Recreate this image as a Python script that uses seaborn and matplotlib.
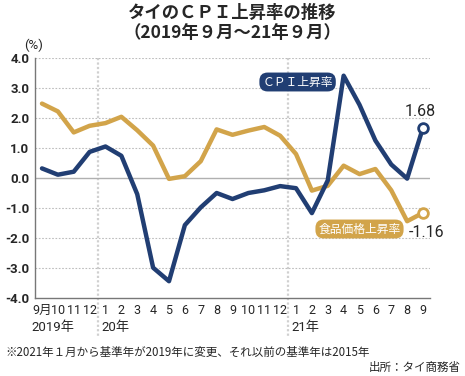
import matplotlib
matplotlib.use("Agg")
import matplotlib.pyplot as plt
import seaborn as sns
import pandas as pd
import numpy as np

# ---- data ----
months = ["9月", "10", "11", "12", "1", "2", "3", "4", "5", "6", "7", "8", "9",
          "10", "11", "12", "1", "2", "3", "4", "5", "6", "7", "8", "9"]
cpi = [0.32, 0.11, 0.21, 0.87, 1.05, 0.74, -0.54, -2.99, -3.44, -1.57, -0.98, -0.50, -0.70,
       -0.50, -0.41, -0.27, -0.34, -1.17, -0.08, 3.41, 2.44, 1.25, 0.45, -0.02, 1.68]
food = [2.48, 2.22, 1.52, 1.74, 1.83, 2.04, 1.59, 1.08, -0.03, 0.06, 0.56, 1.62, 1.44,
        1.58, 1.70, 1.41, 0.80, -0.42, -0.26, 0.41, 0.13, 0.30, -0.41, -1.44, -1.16]
series_names = ["ＣＰＩ上昇率", "食品価格上昇率"]
year_labels = ["2019年", "20年", "21年"]
yticks = [4.0, 3.0, 2.0, 1.0, 0.0, -1.0, -2.0, -3.0, -4.0]

NAVY = "#213e73"
GOLD = "#d2a44a"

sns.set_style("white")
plt.rcParams["font.family"] = ["Noto Sans CJK JP", "DejaVu Sans"]
NUMF = ["Roboto", "Noto Sans CJK JP", "DejaVu Sans"]

idx = np.arange(len(months))
df = pd.DataFrame({
    "idx": np.concatenate([idx, idx]),
    "value": cpi + food,
    "series": [series_names[0]] * len(cpi) + [series_names[1]] * len(food),
})

fig = plt.figure(figsize=(4.65, 3.76), dpi=100)
ax = fig.add_axes([35 / 465, 1 - 298 / 376, (430 - 35) / 465, (298 - 58) / 376])

# grid
for v in yticks:
    if v == 0:
        ax.axhline(v, color="#b0b0b0", lw=1.0, zorder=1)
    elif v != -4.0:
        ax.axhline(v, color="#bdbdbd", lw=0.8, ls=(0, (1.5, 1.5)), zorder=1)

sns.lineplot(data=df, x="idx", y="value", hue="series",
             palette={series_names[0]: NAVY, series_names[1]: GOLD},
             hue_order=[series_names[1], series_names[0]],
             lw=3.2, legend=False, ax=ax, zorder=3)

# end markers
ax.plot(idx[-1], cpi[-1], "o", ms=7, mfc="white", mec=NAVY, mew=2, zorder=5)
ax.plot(idx[-1], food[-1], "o", ms=7, mfc="white", mec=GOLD, mew=2, zorder=5)

ax.set_xlim(-0.44, 24.44)
ax.set_ylim(-4.0, 4.0)

# year separators
for xb in [3.5, 15.5]:
    ax.plot([xb, xb], [4.0, -4.0 - 39 / 30], color="#d0d0d0", lw=1.6,
            ls=(0, (1.0, 1.0)), clip_on=False, zorder=0)

ax.set_xticks(idx)
ax.set_xticklabels(months, family=NUMF, fontsize=9)
ax.set_yticks(yticks)
ax.set_yticklabels([f"{v:.1f}" for v in yticks], family=NUMF, fontsize=9.5, fontweight="bold")
ax.tick_params(axis="x", length=0, pad=4)
ax.tick_params(axis="y", length=3, width=0.8, color="#777777", pad=1)
ax.set_xlabel("")
ax.set_ylabel("")
for s in ["top", "right"]:
    ax.spines[s].set_visible(False)
for s in ["left", "bottom"]:
    ax.spines[s].set_color("#777777")
    ax.spines[s].set_linewidth(1.0)

# year labels
for xp, lab in zip([31, 101, 291], year_labels):
    fig.text(xp / 465, 1 - 327 / 376, lab, family=NUMF, fontsize=9.5, ha="left", va="center")

# series labels
ax.text(16.1, 3.2, series_names[0], color="white", fontsize=8.5, ha="center", va="center",
        bbox=dict(boxstyle="round,pad=0.25,rounding_size=0.7", fc=NAVY, ec="none"), zorder=6)
ax.text(20.0, -1.7, series_names[1], color="white", fontsize=8.5, ha="center", va="center",
        bbox=dict(boxstyle="round,pad=0.25,rounding_size=0.7", fc=GOLD, ec="none"), zorder=6)

# value labels
ax.text(23.8, 2.2, f"{cpi[-1]:.2f}", family=NUMF, fontsize=11.5, ha="center", va="center", zorder=6)
ax.text(24.2, -1.83, f"{food[-1]:.2f}", family=NUMF, fontsize=11.5, ha="center", va="center", zorder=6)

# titles
fig.text(0.5, 1 - 13 / 376, "タイのＣＰＩ上昇率の推移", fontsize=12.5, fontweight="bold",
         ha="center", va="center")
fig.text(0.5, 1 - 33 / 376, "（2019年９月～21年９月）", fontsize=12.5, fontweight="bold",
         ha="center", va="center")
fig.text(24 / 465, 1 - 45 / 376, "(%)", family=NUMF, fontsize=9.5, ha="left", va="center")

fig.text(5 / 465, 1 - 352 / 376, "※2021年１月から基準年が2019年に変更、それ以前の基準年は2015年",
         fontsize=8.3, ha="left", va="center")
fig.text(461 / 465, 1 - 367 / 376, "出所：タイ商務省", fontsize=8.3, ha="right", va="center")

fig.savefig("out.png", dpi=100)
